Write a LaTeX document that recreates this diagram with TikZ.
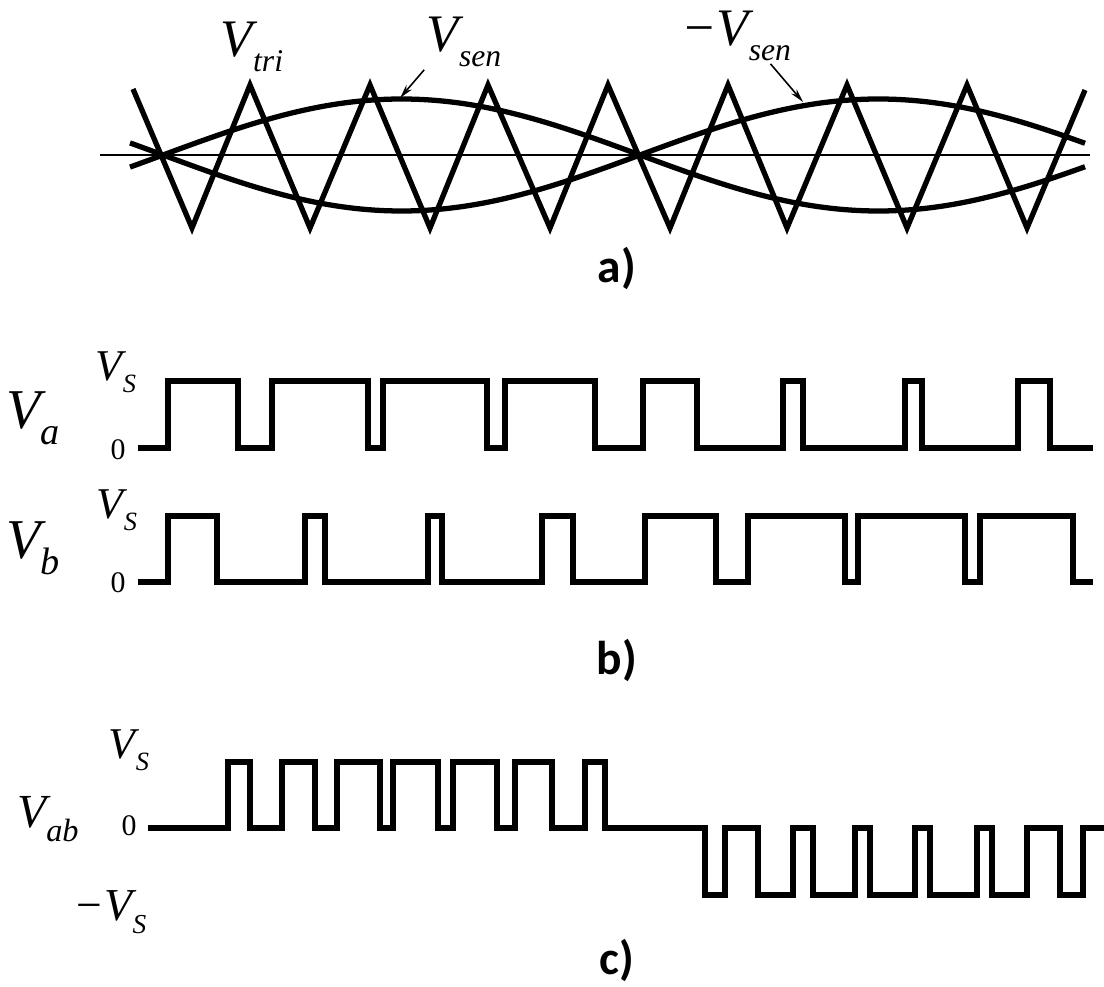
\documentclass[tikz,border=0pt]{standalone}
\usepackage{fontspec}
\setmainfont{Liberation Serif}
\newfontfamily\capfont{Carlito}
\usetikzlibrary{arrows.meta}
\newcommand{\lowsub}[2][0.68]{\raisebox{-0.28em}{\scalebox{#1}{#2}}}

\begin{document}
\begin{tikzpicture}[x=0.02cm, y=-0.02cm,
  wave/.style={line width=3.4pt, line join=miter},
  carrier/.style={line width=3pt, line join=miter},
  axis/.style={line width=1.2pt},
  ptr/.style={line width=0.9pt, shorten <=2pt, -{Stealth[length=8pt, width=4pt]}},
  lbl/.style={inner sep=0pt, font=\itshape\fontsize{#1}{#1}\selectfont},
  zero/.style={inner sep=0pt, font=\fontsize{17}{17}\selectfont},
  partlbl/.style={inner sep=0pt, font=\capfont\bfseries\fontsize{27}{27}\selectfont}]
\useasboundingbox (0,0) rectangle (1104,986);

\draw[axis] (100,155) -- (1090,155);
\draw[carrier] plot[domain=130:1085, samples=120, smooth] (\x, {155-56*sin((\x-163)/477*180)});
\draw[carrier] plot[domain=130:1085, samples=120, smooth] (\x, {155+56*sin((\x-163)/477*180)});
\draw[carrier] (133,89) -- (192,228) -- (250,85) -- (310,228) -- (370,85) -- (430,228) -- (488,85) -- (550,228) -- (608,85) -- (670,228) -- (728,85) -- (787,228) -- (847,85) -- (907,228) -- (967,85) -- (1027,228) -- (1085,90);

\node[lbl=30] (vtri) at (252,47) {V\lowsub[0.6]{tri}};
\node[lbl=30] (vsen) at (464,42) {V\lowsub[0.6]{sen}};
\node[lbl=30] (nvsen) at (736,36) {−V\lowsub[0.6]{sen}};
\coordinate (senA) at (400,98);
\coordinate (senB) at (803,102);
\draw[ptr] (vsen.south west) -- (senA);
\draw[ptr] (nvsen.-38) -- (senB);
\node[partlbl] (capa) at (617,268) {a)};

\node[lbl=32] (va) at (33,418) {V\lowsub{a}};
\node[lbl=25] (vsa) at (116,372) {V\lowsub[0.6]{S}};
\node[zero] (za) at (118,450) {0};
\draw[wave] (138,448) -| (168,381) -| (238,448) -| (272,381) -| (368,448) -| (383,381) -| (487,448) -| (505,381) -| (595,448) -| (643,381) -| (697,448) -| (783,381) -| (803,448) -| (905,381) -| (922,448) -| (1018,381) -| (1050,448) -- (1093,448);

\node[lbl=32] (vb) at (33,548) {V\lowsub{b}};
\node[lbl=25] (vsb) at (117,510) {V\lowsub[0.6]{S}};
\node[zero] (zb) at (118,583) {0};
\draw[wave] (138,582) -| (168,516) -| (217,582) -| (305,516) -| (325,582) -| (428,516) -| (442,582) -| (542,516) -| (573,582) -| (645,516) -| (716,582) -| (748,516) -| (845,582) -| (858,516) -| (965,582) -| (980,516) -| (1073,582) -- (1093,582);
\node[partlbl] (capb) at (617,660) {b)};

\node[lbl=27] (vab) at (48,819) {V\lowsub{ab}};
\node[lbl=25] (vsab) at (129,750) {V\lowsub[0.6]{S}};
\node[lbl=26] (nvsab) at (110,912) {−V\lowsub[0.6]{S}};
\node[zero] (zab) at (129,826) {0};
\draw[wave] (148,828) -| (228,762) -| (250,828) -| (282,762) -| (315,828) -| (337,762) -| (380,828) -| (393,762) -| (438,828) -| (453,762) -| (497,828) -| (515,762) -| (552,828) -| (585,762) -| (605,828) -| (705,895) -| (725,828) -| (758,895) -| (793,828) -| (813,895) -| (855,828) -| (870,895) -| (915,828) -| (930,895) -| (977,828) -| (992,895) -| (1027,828) -| (1060,895) -| (1083,828) -- (1104,828);
\node[partlbl] (capc) at (617,960) {c)};
\end{tikzpicture}
\end{document}
